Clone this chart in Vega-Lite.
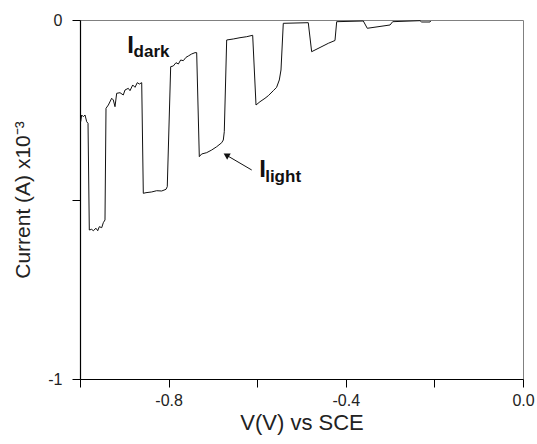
{
  "$schema": "https://vega.github.io/schema/vega-lite/v6.json",
  "width": 443,
  "height": 359,
  "autosize": {"type": "none"},
  "padding": {"left": 80, "top": 20, "right": 14, "bottom": 65},
  "background": "white",
  "config": {
    "view": {"stroke": "#808080", "strokeWidth": 1},
    "axis": {
      "grid": false,
      "domainColor": "#000",
      "domainWidth": 1.2,
      "tickColor": "#000",
      "tickSize": 8,
      "labelFlush": false,
      "labelOverlap": false,
      "labelFont": "Liberation Sans",
      "labelFontSize": 16,
      "labelColor": "#222",
      "titleFont": "Liberation Sans",
      "titleFontSize": 21,
      "titleFontWeight": "normal",
      "titleColor": "#222"
    }
  },
  "datasets": {
    "curve": [
      {"v": -0.9984, "i": -0.2833}, {"v": -0.9962, "i": -0.2646}, {"v": -0.9925, "i": -0.2693},
      {"v": -0.9887, "i": -0.2646}, {"v": -0.9849, "i": -0.2833}, {"v": -0.9819, "i": -0.2878},
      {"v": -0.979, "i": -0.585}, {"v": -0.9736, "i": -0.583}, {"v": -0.97, "i": -0.587},
      {"v": -0.9639, "i": -0.58}, {"v": -0.96, "i": -0.587}, {"v": -0.9564, "i": -0.5757},
      {"v": -0.951, "i": -0.5785}, {"v": -0.9474, "i": -0.5646}, {"v": -0.9436, "i": -0.557},
      {"v": -0.9413, "i": -0.246}, {"v": -0.936, "i": -0.2368}, {"v": -0.9285, "i": -0.218},
      {"v": -0.9248, "i": -0.2228}, {"v": -0.921, "i": -0.2415}, {"v": -0.9172, "i": -0.2042},
      {"v": -0.9097, "i": -0.2025}, {"v": -0.9023, "i": -0.2089}, {"v": -0.8984, "i": -0.195},
      {"v": -0.891, "i": -0.1903}, {"v": -0.8871, "i": -0.1969}, {"v": -0.881, "i": -0.181},
      {"v": -0.8758, "i": -0.1875}, {"v": -0.8707, "i": -0.1746}, {"v": -0.866, "i": -0.1783},
      {"v": -0.8607, "i": -0.1746},
      {"v": -0.8571, "i": -0.4828}, {"v": -0.851, "i": -0.481}, {"v": -0.8382, "i": -0.479},
      {"v": -0.827, "i": -0.4755}, {"v": -0.8156, "i": -0.4763}, {"v": -0.8059, "i": -0.4717},
      {"v": -0.803, "i": -0.4643},
      {"v": -0.7953, "i": -0.13}, {"v": -0.7894, "i": -0.1281}, {"v": -0.7833, "i": -0.1189},
      {"v": -0.778, "i": -0.1226}, {"v": -0.7727, "i": -0.1114}, {"v": -0.7668, "i": -0.1133},
      {"v": -0.7607, "i": -0.104}, {"v": -0.7555, "i": -0.1003}, {"v": -0.748, "i": -0.0947},
      {"v": -0.7404, "i": -0.091}, {"v": -0.7366, "i": -0.091},
      {"v": -0.7307, "i": -0.3807}, {"v": -0.7255, "i": -0.3733}, {"v": -0.714, "i": -0.3695},
      {"v": -0.7027, "i": -0.3621}, {"v": -0.6914, "i": -0.3529}, {"v": -0.6801, "i": -0.3418},
      {"v": -0.6765, "i": -0.3343}, {"v": -0.6743, "i": -0.3111},
      {"v": -0.6689, "i": -0.0557}, {"v": -0.654, "i": -0.0529}, {"v": -0.6388, "i": -0.0493},
      {"v": -0.6237, "i": -0.0465}, {"v": -0.6102, "i": -0.0426},
      {"v": -0.6027, "i": -0.2368}, {"v": -0.5937, "i": -0.2276}, {"v": -0.5824, "i": -0.2181},
      {"v": -0.575, "i": -0.2109}, {"v": -0.5636, "i": -0.1969}, {"v": -0.5562, "i": -0.1875},
      {"v": -0.5501, "i": -0.1671}, {"v": -0.5463, "i": -0.1393},
      {"v": -0.5411, "i": -0.0092}, {"v": -0.4847, "i": -0.0075},
      {"v": -0.4771, "i": -0.0883}, {"v": -0.4582, "i": -0.0766}, {"v": -0.4395, "i": -0.0649},
      {"v": -0.4244, "i": -0.0571},
      {"v": -0.4206, "i": -0.0047}, {"v": -0.3605, "i": -0.0028},
      {"v": -0.3515, "i": -0.0231}, {"v": -0.3002, "i": -0.0139},
      {"v": -0.2941, "i": -0.0047}, {"v": -0.2325, "i": -0.0019},
      {"v": -0.2287, "i": -0.0056}, {"v": -0.21, "i": -0.0056}, {"v": -0.2084, "i": -0.0028}
    ],
    "mainLabels": [
      {"x": -0.8935, "y": -0.0919, "t": "I"},
      {"x": -0.5955, "y": -0.4365, "t": "I"}
    ],
    "subLabels": [
      {"x": -0.879, "y": -0.1017, "t": "dark"},
      {"x": -0.582, "y": -0.4504, "t": "light"}
    ],
    "arrow": [
      {"x1": -0.6124, "y1": -0.4178, "x2": -0.6698, "y2": -0.3763}
    ]
  },
  "layer": [
    {
      "data": {"name": "curve"},
      "mark": {"type": "line", "color": "#111", "strokeWidth": 1, "clip": true},
      "encoding": {
        "x": {
          "field": "v", "type": "quantitative",
          "scale": {"domain": [-1, 0], "nice": false, "zero": false},
          "axis": {
            "title": "V(V) vs SCE",
            "titleFontSize": 22,
            "values": [-1, -0.8, -0.6, -0.4, -0.2, 0],
            "labelExpr": "abs(datum.value + 0.8) < 0.001 ? '-0.8' : abs(datum.value + 0.4) < 0.001 ? '-0.4' : abs(datum.value) < 0.001 ? '0.0' : ''",
            "labelPadding": 5,
            "titlePadding": 4
          }
        },
        "y": {
          "field": "i", "type": "quantitative",
          "scale": {"domain": [-1, 0], "nice": false, "zero": false},
          "axis": {
            "title": "Current (A) x10⁻³",
            "values": [-1, -0.5, 0],
            "labelExpr": "abs(datum.value) < 0.001 ? '0' : abs(datum.value + 1) < 0.001 ? '-1' : ''",
            "labelPadding": 10,
            "titlePadding": 14
          }
        }
      }
    },
    {
      "data": {"name": "arrow"},
      "mark": {"type": "rule", "color": "#111", "strokeWidth": 1},
      "encoding": {
        "x": {"field": "x1", "type": "quantitative"},
        "y": {"field": "y1", "type": "quantitative"},
        "x2": {"field": "x2"},
        "y2": {"field": "y2"}
      }
    },
    {
      "data": {"name": "arrow"},
      "mark": {"type": "point", "shape": "triangle-up", "filled": true, "color": "#111", "size": 50, "angle": 300, "opacity": 1},
      "encoding": {
        "x": {"field": "x2", "type": "quantitative"},
        "y": {"field": "y2", "type": "quantitative"}
      }
    },
    {
      "data": {"name": "mainLabels"},
      "mark": {"type": "text", "font": "Liberation Sans", "fontWeight": "bold", "fontSize": 24, "align": "left", "baseline": "alphabetic", "color": "#111"},
      "encoding": {
        "x": {"field": "x", "type": "quantitative"},
        "y": {"field": "y", "type": "quantitative"},
        "text": {"field": "t"}
      }
    },
    {
      "data": {"name": "subLabels"},
      "mark": {"type": "text", "font": "Liberation Sans", "fontWeight": "bold", "fontSize": 17, "align": "left", "baseline": "alphabetic", "color": "#111"},
      "encoding": {
        "x": {"field": "x", "type": "quantitative"},
        "y": {"field": "y", "type": "quantitative"},
        "text": {"field": "t"}
      }
    }
  ]
}
